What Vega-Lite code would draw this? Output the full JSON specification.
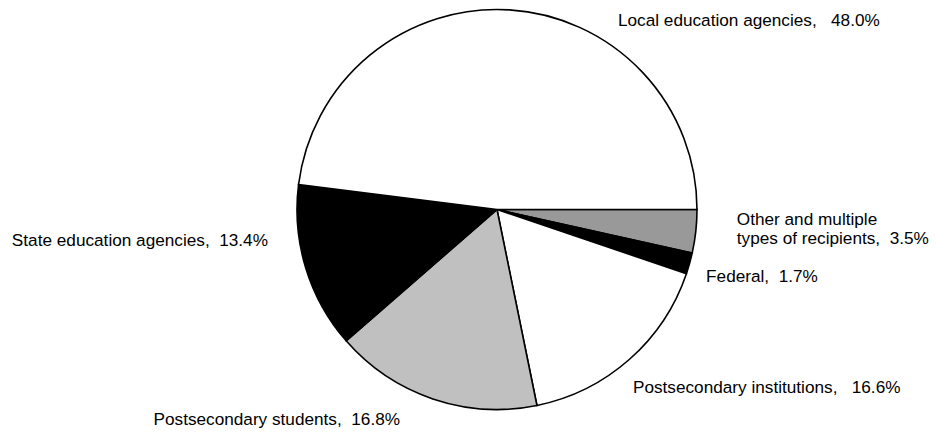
{
  "$schema": "https://vega.github.io/schema/vega-lite/v6.json",
  "width": 400,
  "height": 401,
  "autosize": "none",
  "padding": {"left": 297, "top": 9, "right": 239, "bottom": 22},
  "background": "white",
  "config": {"view": {"stroke": null}},
  "data": {
    "values": [
      {"key": "other", "ord": 1, "pct": 3.5, "label": "Other and multiple\n\u00a0types of recipients,\u00a0\u00a03.5%"},
      {"key": "federal", "ord": 2, "pct": 1.7, "label": "Federal,\u00a0\u00a01.7%"},
      {"key": "inst", "ord": 3, "pct": 16.6, "label": "Postsecondary institutions,\u00a0\u00a0\u00a016.6%"},
      {"key": "students", "ord": 4, "pct": 16.8, "label": "Postsecondary students,\u00a0\u00a016.8%"},
      {"key": "state", "ord": 5, "pct": 13.4, "label": "State education agencies,\u00a0\u00a013.4%"},
      {"key": "local", "ord": 6, "pct": 48.0, "label": "Local education agencies,\u00a0\u00a0\u00a048.0%"}
    ]
  },
  "encoding": {
    "theta": {"field": "pct", "type": "quantitative", "stack": true, "scale": {"range": [1.5707963, 7.8539816]}},
    "order": {"field": "ord", "type": "quantitative", "sort": "ascending"}
  },
  "layer": [
    {
      "mark": {"type": "arc", "outerRadius": 200, "stroke": "#000000", "strokeWidth": 1.6, "strokeJoin": "miter"},
      "encoding": {
        "color": {
          "field": "key", "type": "nominal", "legend": null,
          "scale": {"domain": ["other", "federal", "inst", "students", "state", "local"],
                    "range": ["#999999", "#000000", "#ffffff", "#c0c0c0", "#000000", "#ffffff"]}
        }
      }
    },
    {
      "mark": {"type": "text", "radius": 200, "align": "left", "baseline": "alphabetic", "dx": 41, "dy": -6.4, "font": "Liberation Sans", "fontSize": 17.2, "lineBreak": "\n", "lineHeight": 19, "color": "#000000"},
      "encoding": {"text": {"condition": {"test": "datum.key === 'other'", "field": "label"}, "value": ""}}
    },
    {
      "mark": {"type": "text", "radius": 200, "align": "left", "baseline": "alphabetic", "dx": 16.5, "dy": 18.4, "font": "Liberation Sans", "fontSize": 17.2, "color": "#000000"},
      "encoding": {"text": {"condition": {"test": "datum.key === 'federal'", "field": "label"}, "value": ""}}
    },
    {
      "mark": {"type": "text", "radius": 200, "align": "left", "baseline": "alphabetic", "dx": 3.7, "dy": 33.5, "font": "Liberation Sans", "fontSize": 17.2, "color": "#000000"},
      "encoding": {"text": {"condition": {"test": "datum.key === 'inst'", "field": "label"}, "value": ""}}
    },
    {
      "mark": {"type": "text", "radius": 200, "align": "right", "baseline": "alphabetic", "dx": -32.8, "dy": 26.1, "font": "Liberation Sans", "fontSize": 17.2, "color": "#000000"},
      "encoding": {"text": {"condition": {"test": "datum.key === 'students'", "field": "label"}, "value": ""}}
    },
    {
      "mark": {"type": "text", "radius": 200, "align": "right", "baseline": "alphabetic", "dx": -37.7, "dy": -21.7, "font": "Liberation Sans", "fontSize": 17.2, "color": "#000000"},
      "encoding": {"text": {"condition": {"test": "datum.key === 'state'", "field": "label"}, "value": ""}}
    },
    {
      "mark": {"type": "text", "radius": 200, "align": "left", "baseline": "alphabetic", "dx": 108.4, "dy": 16.1, "font": "Liberation Sans", "fontSize": 17.2, "color": "#000000"},
      "encoding": {"text": {"condition": {"test": "datum.key === 'local'", "field": "label"}, "value": ""}}
    }
  ]
}
